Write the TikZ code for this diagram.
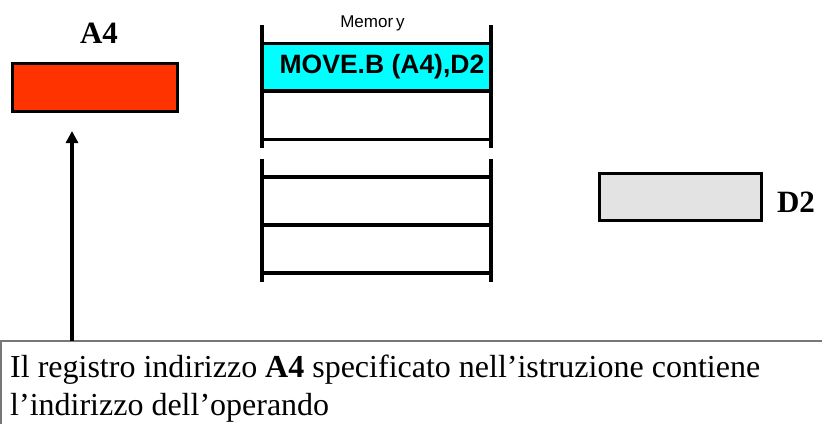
\documentclass[tikz,border=0pt]{standalone}
\usepackage{fontspec}
\setmainfont{Liberation Serif}
\setsansfont{Liberation Sans}
\usetikzlibrary{arrows.meta}
\definecolor{regred}{HTML}{FF3300}
\definecolor{cellcyan}{HTML}{00FFFF}
\definecolor{reggray}{HTML}{E3E3E3}
\definecolor{notegray}{HTML}{777777}
\tikzset{>={Triangle[width=12pt,length=12pt]}}
\tikzset{
  regbox/.style={draw=black, line width=3pt, inner sep=0pt},
  reglabel/.style={font=\fontsize{31}{37}\selectfont\bfseries, inner sep=0pt, anchor=base},
  memwall/.style={line width=4pt},
  memline/.style={line width=4.5pt},
  thinline/.style={line width=3pt},
}

\begin{document}
\begin{tikzpicture}[x=1pt, y=-1pt]
\useasboundingbox (0,0) rectangle (822,424);
\node (a4reg) at (95,87.5) [regbox, fill=regred, minimum width=165pt, minimum height=48pt] {};
\node (a4lab) at (99,43) [reglabel] {A4};
\node (d2reg) at (680.5,197) [regbox, fill=reggray, minimum width=162pt, minimum height=47pt] {};
\node (d2lab) at (796,212) [reglabel] {D2};
\node (memlab) at (372.5,27) [anchor=base, inner sep=0pt, font=\sffamily\fontsize{17}{20}\selectfont] {Memor\kern3pt y};
\fill [cellcyan] (262,43) rectangle (491,91);
\node (instr) at (382,73) [anchor=base, inner sep=0pt, font=\sffamily\bfseries\fontsize{26.5}{30}\selectfont] {MOVE.B (A4),D2};
\foreach \x in {262,491} {
  \draw [memwall] (\x,25) -- (\x,148);
  \draw [memwall] (\x,159) -- (\x,282);
}
\draw [thinline] (262,43) -- (491,43);
\draw [memline] (262,91) -- (491,91);
\draw [thinline] (262,139) -- (491,139);
\foreach \y in {177,225,273}
  \draw [memline] (262,\y) -- (491,\y);
\draw [notegray, line width=2pt] (1,424) -- (1,341) -- (822,341);
\node (note) at (10,355) [anchor=north west, inner sep=0pt, align=left, font=\fontsize{32}{38}\selectfont] {Il registro indirizzo \textbf{A4} specificato nell'istruzione contiene\\l'indirizzo dell'operando};
\coordinate (foot) at (72,341);
\coordinate (tip) at (72,131);
\draw [->, line width=4pt] (foot) -- (tip);
\end{tikzpicture}
\end{document}
